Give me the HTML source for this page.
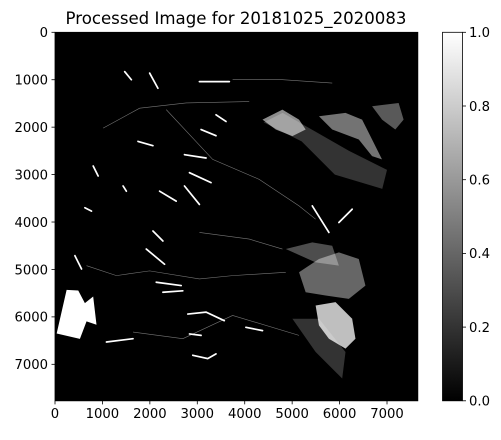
<!DOCTYPE html>
<html><head><meta charset="utf-8">
<style>
html,body{margin:0;padding:0;background:#fff;}
svg text{font-family:"DejaVu Sans","Liberation Sans",sans-serif;fill:#000;}
</style></head>
<body>
<svg id="chart" width="501" height="435" viewBox="0 0 501 435" xmlns="http://www.w3.org/2000/svg">
<defs>
<linearGradient id="cbgrad" x1="0" y1="1" x2="0" y2="0">
<stop offset="0" stop-color="#000"/><stop offset="1" stop-color="#fff"/>
</linearGradient>
</defs>
<text x="236" y="24" font-size="16.6" text-anchor="middle">Processed Image for 20181025_2020083</text>
<g id="img"></g>
<g id="axes"></g>
<rect x="442.5" y="32.3" width="20" height="368.5" fill="url(#cbgrad)" stroke="#000" stroke-width="0.8"/>
<g id="cbar"></g>
</svg>
<script>
const imgWidth = 7650, imgHeight = 7770;
const xTicks = [0,1000,2000,3000,4000,5000,6000,7000];
const yTicks = [0,1000,2000,3000,4000,5000,6000,7000];
const cbTicks = [0.0,0.2,0.4,0.6,0.8,1.0];
const cbLabels = ["0.0","0.2","0.4","0.6","0.8","1.0"];
const polys = [
 {o:1, p:[[245,5430],[490,5445],[630,5710],[805,5570],[875,6165],[665,6095],[525,6465],[35,6350]]},
 {o:0.2, p:[[4400,1900],[5200,2300],[5900,3000],[6900,3300],[7000,2900],[6200,2500],[5500,2100],[4800,1700]]},
 {o:0.55, p:[[4375,1840],[4795,1630],[5145,1840],[5285,2050],[5005,2190],[4655,2050]]},
 {o:0.45, p:[[5565,1770],[6125,1700],[6475,1840],[6755,2400],[6895,2680],[6685,2610],[6405,2260],[5845,2050]]},
 {o:0.35, p:[[6685,1560],[7245,1490],[7350,1840],[7175,2050],[6895,1840]]},
 {o:0.75, p:[[5495,5760],[5915,5690],[6265,6040],[6335,6460],[6125,6670],[5775,6460],[5565,6180]]},
 {o:0.4, p:[[5145,5060],[5565,4780],[5985,4640],[6405,4780],[6545,5340],[6195,5620],[5705,5550],[5285,5480]]},
 {o:0.3, p:[[4865,4570],[5425,4430],[5845,4500],[5985,4920],[5495,4850]]},
 {o:0.2, p:[[5005,6040],[5495,6740],[6055,7300],[6125,6740],[5565,6040]]}
];
const streaks = [
 [[2730,2580],[3185,2650]],[[2835,2960],[3290,3170]],[[2205,3350],[2555,3560]],
 [[2730,3240],[3045,3630]],[[1750,2300],[2065,2390]],[[3080,2050],[3395,2180]],
 [[3395,1740],[3605,1880]],[[1470,830],[1610,1000]],[[1995,860],[2170,1180]],
 [[2065,4190],[2275,4400]],[[1925,4570],[2310,4890]],[[2135,5270],[2660,5340]],
 [[2275,5480],[2695,5450]],[[2800,5940],[3185,5900],[3570,6080]],[[4025,6220],[4375,6290]],
 [[1085,6530],[1645,6460]],[[2905,6810],[3220,6880],[3395,6780]],[[2835,6360],[3080,6390]],
 [[5425,3660],[5775,4220]],[[5985,4010],[6265,3730]],[[420,4710],[560,4990]],
 [[630,3700],[770,3770]],[[805,2820],[910,3030]],[[1435,3240],[1505,3350]],[[3045,1040],[3675,1040]]
];
const rivers = [
 [[1015,2020],[1785,1600],[2765,1490],[4095,1460]],
 [[665,4920],[1295,5130],[1995,5030],[3045,5200],[3745,5130],[4865,5060]],
 [[2345,1630],[3325,2680],[4305,3100],[5145,3660],[5495,3940]],
 [[3745,1000],[4795,1000],[5845,1070]],
 [[1645,6320],[2695,6460],[3745,5970],[5145,6390]],
 [[3045,4220],[4095,4360],[4795,4570]]
];
const X0=55, Y0=32.3, S=0.04743;
const sx = v => X0 + v*S;
const sy = v => Y0 + v*S;
const NS="http://www.w3.org/2000/svg";
function mk(tag, parent, attrs){const e=document.createElementNS(NS,tag);for(const k in attrs)e.setAttribute(k,attrs[k]);parent.appendChild(e);return e;}
const img=document.getElementById('img');
const bg=mk('rect',img,{x:sx(0),y:sy(0),width:imgWidth*S,height:imgHeight*S,fill:'#000'});


rivers.forEach(r=>{
 const e=mk('polyline',img,{points:r.map(p=>sx(p[0])+','+sy(p[1])).join(' '),fill:'none',stroke:'#777','stroke-width':0.6});
 
 
});
polys.forEach(b=>{
 const e=mk('polygon',img,{points:b.p.map(p=>sx(p[0])+','+sy(p[1])).join(' '),fill:'#fff','fill-opacity':b.o});
 
 
});
streaks.forEach(s=>{
 const e=mk('polyline',img,{points:s.map(p=>sx(p[0])+','+sy(p[1])).join(' '),fill:'none',stroke:'#fff','stroke-width':1.7,'stroke-linecap':'round'});
 
 
});
const ax=document.getElementById('axes');
const frame=mk('rect',ax,{x:sx(0),y:sy(0),width:imgWidth*S,height:imgHeight*S,fill:'none',stroke:'#000','stroke-width':0.8});


const yb=sy(imgHeight);
xTicks.forEach(t=>{
 const l=mk('line',ax,{x1:sx(t),x2:sx(t),y1:yb,y2:yb+3.5,stroke:'#000','stroke-width':0.8});
 
 
 const tx=mk('text',ax,{x:sx(t),y:yb+17,'font-size':13.2,'text-anchor':'middle'});
 tx.textContent=t;
 
 
});
yTicks.forEach(t=>{
 const l=mk('line',ax,{x1:X0-3.5,x2:X0,y1:sy(t),y2:sy(t),stroke:'#000','stroke-width':0.8});
 
 
 const tx=mk('text',ax,{x:X0-7,y:sy(t)+4.8,'font-size':13.2,'text-anchor':'end'});
 tx.textContent=t;
 
 
});
const cb=document.getElementById('cbar');
const cTop=32.3, cBot=400.8, cx=462.5;
cbTicks.forEach((t,i)=>{
 const y=cBot-(cBot-cTop)*t;
 const l=mk('line',cb,{x1:cx,x2:cx+3.5,y1:y,y2:y,stroke:'#000','stroke-width':0.8});
 
 
 const tx=mk('text',cb,{x:cx+6.5,y:y+4.8,'font-size':13.2});
 tx.textContent=cbLabels[i];
 
 
});
</script>
</body></html>
